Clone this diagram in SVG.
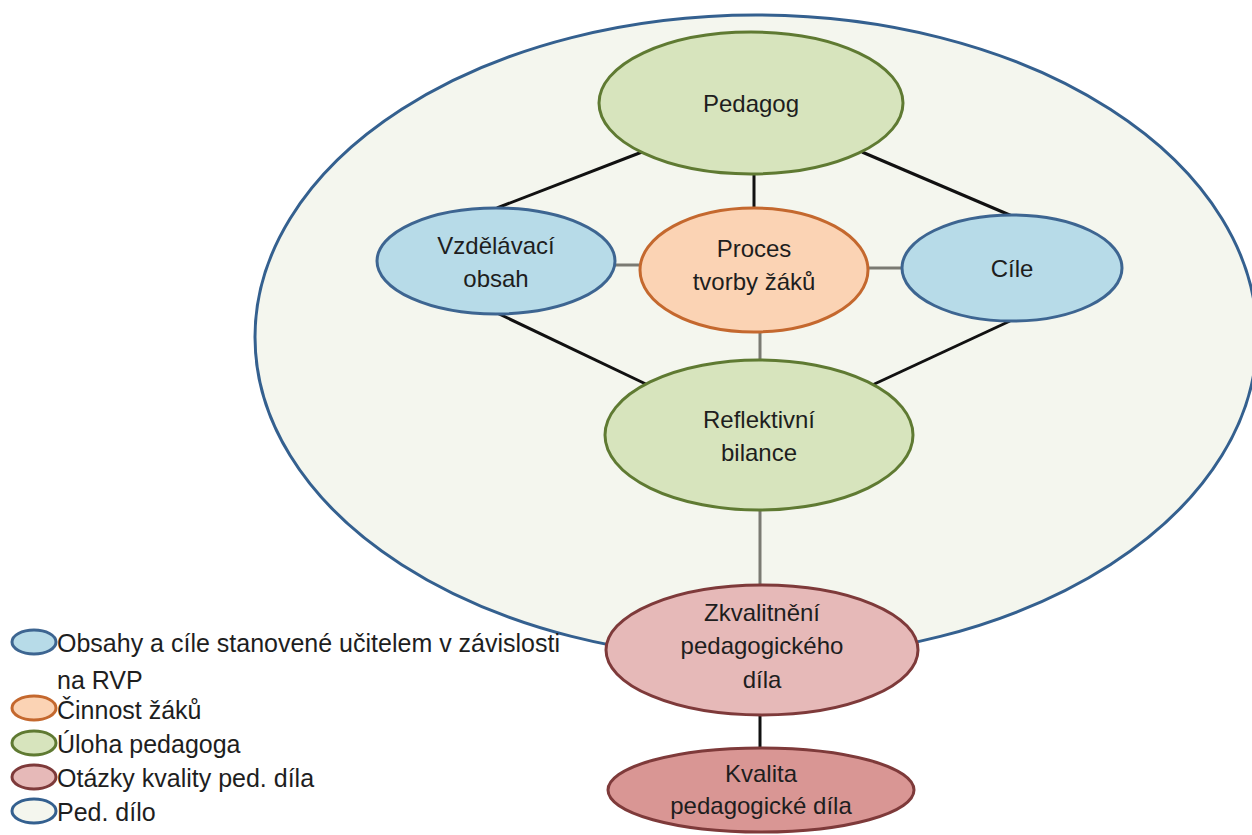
<svg xmlns="http://www.w3.org/2000/svg" width="1252" height="835" viewBox="0 0 1252 835">
  <style>
    text { font-family: "Liberation Sans", Arial, sans-serif; fill: #1e1e1e; }
    .lbl { font-size: 24px; text-anchor: middle; }
    .leg { font-size: 25px; }
    .blue { fill: #b7dbe8; stroke: #3d6591; stroke-width: 3; }
    .orange { fill: #fbd3b4; stroke: #c4682e; stroke-width: 3; }
    .green { fill: #d7e4bd; stroke: #5f7a32; stroke-width: 3; }
    .pink { fill: #e6b9b8; stroke: #7e3a3a; stroke-width: 3; }
    .rose { fill: #d99694; stroke: #7e3a3a; stroke-width: 3; }
    .work { fill: #f4f6ee; stroke: #34608f; stroke-width: 3; }
    .dark { stroke: #111; stroke-width: 3; fill: none; }
    .grey { stroke: #7a7a72; stroke-width: 3; fill: none; }
  </style>

  <!-- outer area: the pedagogical work -->
  <g id="ped-dilo">
    <ellipse class="work" cx="756" cy="337" rx="501" ry="322"/>
  </g>

  <!-- connectors -->
  <g id="connectors">
    <line class="dark" x1="642" y1="152" x2="497" y2="208"/>
    <line class="dark" x1="754" y1="173" x2="754" y2="208"/>
    <line class="dark" x1="862" y1="152" x2="1012" y2="216"/>
    <line class="grey" x1="612" y1="265" x2="642" y2="265"/>
    <line class="grey" x1="866" y1="268" x2="905" y2="268"/>
    <line class="dark" x1="497" y1="313" x2="650" y2="386"/>
    <line class="dark" x1="1010" y1="321" x2="868" y2="387"/>
    <line class="grey" x1="760" y1="333" x2="760" y2="361"/>
    <line class="grey" x1="760" y1="509" x2="760" y2="586"/>
    <line class="dark" x1="760" y1="714" x2="760" y2="750"/>
  </g>

  <g id="pedagog">
    <ellipse class="green" cx="751" cy="103" rx="152" ry="71"/>
    <text class="lbl" x="751" y="112">Pedagog</text>
  </g>

  <g id="vzdelavaci-obsah">
    <ellipse class="blue" cx="496" cy="261" rx="119" ry="53"/>
    <text class="lbl" x="496" y="254">Vzdělávací</text>
    <text class="lbl" x="496" y="287">obsah</text>
  </g>

  <g id="proces">
    <ellipse class="orange" cx="754" cy="270" rx="114" ry="62"/>
    <text class="lbl" x="754" y="257">Proces</text>
    <text class="lbl" x="754" y="290">tvorby žáků</text>
  </g>

  <g id="cile">
    <ellipse class="blue" cx="1012" cy="268" rx="110" ry="53"/>
    <text class="lbl" x="1012" y="277">Cíle</text>
  </g>

  <g id="reflektivni-bilance">
    <ellipse class="green" cx="759" cy="435" rx="154" ry="75"/>
    <text class="lbl" x="759" y="428">Reflektivní</text>
    <text class="lbl" x="759" y="461">bilance</text>
  </g>

  <g id="zkvalitneni">
    <ellipse class="pink" cx="762" cy="650" rx="156" ry="65"/>
    <text class="lbl" x="762" y="621">Zkvalitnění</text>
    <text class="lbl" x="762" y="654">pedagogického</text>
    <text class="lbl" x="762" y="688">díla</text>
  </g>

  <g id="kvalita">
    <ellipse class="rose" cx="761" cy="790" rx="153" ry="42"/>
    <text class="lbl" x="761" y="782">Kvalita</text>
    <text class="lbl" x="761" y="814">pedagogické díla</text>
  </g>

  <!-- legend -->
  <g id="legend">
    <ellipse class="blue" cx="34" cy="642" rx="22" ry="12"/>
    <text class="leg" x="57" y="652">Obsahy a cíle stanovené učitelem v závislosti</text>
    <text class="leg" x="57" y="689">na RVP</text>
    <ellipse class="orange" cx="34" cy="708" rx="22" ry="12"/>
    <text class="leg" x="57" y="719">Činnost žáků</text>
    <ellipse class="green" cx="34" cy="743" rx="22" ry="12"/>
    <text class="leg" x="57" y="753">Úloha pedagoga</text>
    <ellipse class="pink" cx="34" cy="777" rx="22" ry="12"/>
    <text class="leg" x="57" y="787">Otázky kvality ped. díla</text>
    <ellipse class="work" cx="34" cy="811" rx="22" ry="12"/>
    <text class="leg" x="57" y="821">Ped. dílo</text>
  </g>
</svg>
